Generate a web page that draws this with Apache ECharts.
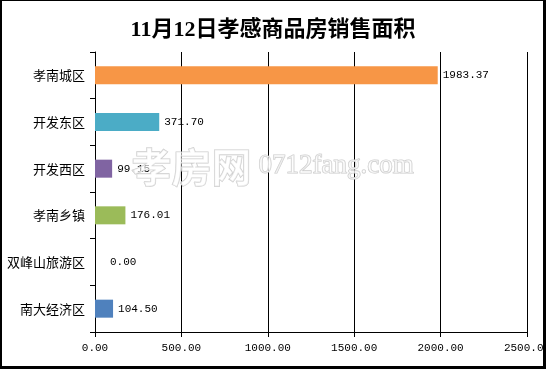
<!DOCTYPE html>
<html><head><meta charset="utf-8">
<script src="https://cdn.jsdelivr.net/npm/echarts@6/dist/echarts.min.js"></script>
<style>html,body{margin:0;padding:0;background:#fff}#c{width:546px;height:369px}</style>
</head><body><div id="c"></div>
<script>
var titleText = '11月12日孝感商品房销售面积';
var categories = ['孝南城区', '开发东区', '开发西区', '孝南乡镇', '双峰山旅游区', '南大经济区'];
var values = [1983.37, 371.70, 99.15, 176.01, 0.00, 104.50];
var barColors = ['#F79646', '#4BACC6', '#8064A2', '#9BBB59', '#C0504D', '#4F81BD'];
var axisMin = 0, axisMax = 2500, axisStep = 500;
var watermarkCn = '孝房网';
var watermarkEn = '0712fang.com';

var mono = '"Liberation Mono","DejaVu Sans Mono",monospace';
var cjk = '"Noto Sans CJK SC","Noto Sans",sans-serif';

var chart = echarts.init(document.getElementById('c'), null, {renderer: 'canvas'});
chart.setOption({
  animation: false,
  backgroundColor: '#fff',
  title: {
    text: titleText, left: 'center', top: 14,
    textStyle: {fontFamily: '"Liberation Serif","Noto Sans CJK SC",serif', fontSize: 22, fontWeight: 'bold', color: '#000'}
  },
  grid: {left: 95, right: 19, top: 52, bottom: 37, containLabel: false, outerBoundsMode: 'none'},
  xAxis: {
    type: 'value', min: axisMin, max: axisMax, interval: axisStep,
    axisLine: {show: true, lineStyle: {color: '#000', width: 1}},
    axisTick: {show: true, length: 5, lineStyle: {color: '#000'}},
    splitLine: {show: true, lineStyle: {color: '#000', width: 1, type: 'solid'}},
    axisLabel: {fontFamily: mono, fontSize: 11, color: '#000', margin: 11, hideOverlap: false,
      formatter: function (v) { return v.toFixed(2); }}
  },
  yAxis: {
    type: 'category', data: categories, inverse: true,
    axisLine: {show: true, lineStyle: {color: '#000', width: 1}},
    axisTick: {show: true, length: 5, alignWithLabel: false, lineStyle: {color: '#000'}},
    splitLine: {show: false},
    axisLabel: {fontFamily: cjk, fontSize: 13, color: '#000', margin: 10}
  },
  series: [{
    type: 'bar', barWidth: 18,
    data: values.map(function (v, i) {
      return {value: v, itemStyle: {color: barColors[i]},
        label: {distance: v === 0 ? 15 : 5}};
    }),
    label: {show: true, position: 'right', fontFamily: mono, fontSize: 11, color: '#000',
      formatter: function (p) { return p.value.toFixed(2); }}
  }],
  graphic: [
    {type: 'text', left: 131, top: 146, z: 100, silent: true,
      style: {text: watermarkCn, font: 'bold 40px "Noto Sans CJK SC",sans-serif', fill: 'rgba(255,255,255,0.6)', stroke: '#cccccc', lineWidth: 1.2}},
    {type: 'text', left: 258, top: 152, z: 100, silent: true,
      style: {text: watermarkEn, font: '27px "Liberation Serif",serif', fill: 'rgba(255,255,255,0.6)', stroke: '#cccccc', lineWidth: 1.2}},
    {type: 'rect', shape: {x: 0, y: 0, width: 2, height: 369}, style: {fill: '#000'}, z: 101, silent: true},
    {type: 'rect', shape: {x: 0, y: 0, width: 546, height: 1}, style: {fill: '#000'}, z: 101, silent: true},
    {type: 'rect', shape: {x: 543, y: 0, width: 3, height: 369}, style: {fill: '#000'}, z: 101, silent: true},
    {type: 'rect', shape: {x: 0, y: 366, width: 546, height: 3}, style: {fill: '#000'}, z: 101, silent: true}
  ]
});
</script></body></html>
